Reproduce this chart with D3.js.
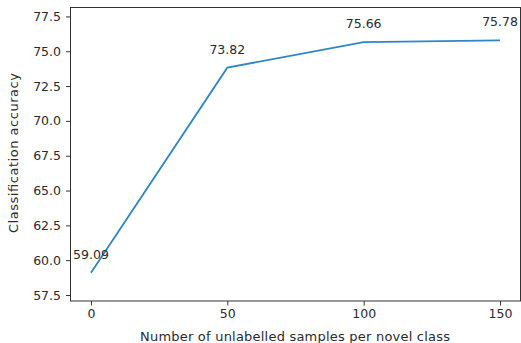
<!DOCTYPE html>
<html><head><meta charset="utf-8">
<script src="https://d3js.org/d3.v7.min.js"></script>
<style>body{margin:0;background:#fff}svg{display:block}text{font-family:"DejaVu Sans",sans-serif;fill:#2b2b2b}</style>
</head><body>
<script>
const samples = [0, 50, 100, 150];
const accuracy = [59.09, 73.82, 75.66, 75.78];
const xTicks = [0, 50, 100, 150];
const yTicks = [57.5, 60.0, 62.5, 65.0, 67.5, 70.0, 72.5, 75.0, 77.5];

const W = 521, H = 343;
const m = {left: 70.5, right: 0.5, top: 7.5, bottom: 42};
const svg = d3.select("body").append("svg").attr("width", W).attr("height", H);
const x = d3.scaleLinear().domain([-7.5, 157.5]).range([m.left, W - m.right]);
const y = d3.scaleLinear().domain([57.07, 78.14]).range([H - m.bottom, m.top]);

const fs = "12.5px";
const gx = svg.append("g").attr("transform", `translate(0,${H - m.bottom})`)
  .call(d3.axisBottom(x).tickValues(xTicks).tickSize(4.5).tickPadding(4).tickFormat(d3.format("d")));
const gy = svg.append("g").attr("transform", `translate(${m.left},0)`)
  .call(d3.axisLeft(y).tickValues(yTicks).tickSize(4.5).tickPadding(5).tickFormat(d3.format(".1f")));
[gx, gy].forEach(g => {
  g.select(".domain").remove();
  g.selectAll("line").attr("stroke", "#333").attr("stroke-width", 1);
  g.selectAll("text").style("font-size", fs).attr("fill", "#2b2b2b");
});
svg.append("rect").attr("x", m.left).attr("y", m.top)
  .attr("width", W - m.right - m.left).attr("height", H - m.bottom - m.top)
  .attr("fill", "none").attr("stroke", "#333").attr("stroke-width", 1);

const data = samples.map((s, i) => ({s, a: accuracy[i]}));
svg.append("path").datum(data)
  .attr("d", d3.line().x(d => x(d.s)).y(d => y(d.a)))
  .attr("fill", "none").attr("stroke", "#2f86c4").attr("stroke-width", 1.8);

svg.selectAll(".lbl").data(data).enter().append("text")
  .attr("x", d => x(d.s)).attr("y", d => y(d.a) - 14)
  .attr("text-anchor", "middle").style("font-size", fs)
  .text(d => d.a.toFixed(2));

svg.append("text").attr("x", 295).attr("y", 340.5)
  .attr("text-anchor", "middle").style("font-size", "13px")
  .attr("textLength", 310).attr("lengthAdjust", "spacing")
  .text("Number of unlabelled samples per novel class");
svg.append("text").attr("transform", `translate(17.5,153) rotate(-90)`)
  .attr("text-anchor", "middle").style("font-size", "13px")
  .attr("textLength", 160).attr("lengthAdjust", "spacing")
  .text("Classification accuracy");
</script>
</body></html>
